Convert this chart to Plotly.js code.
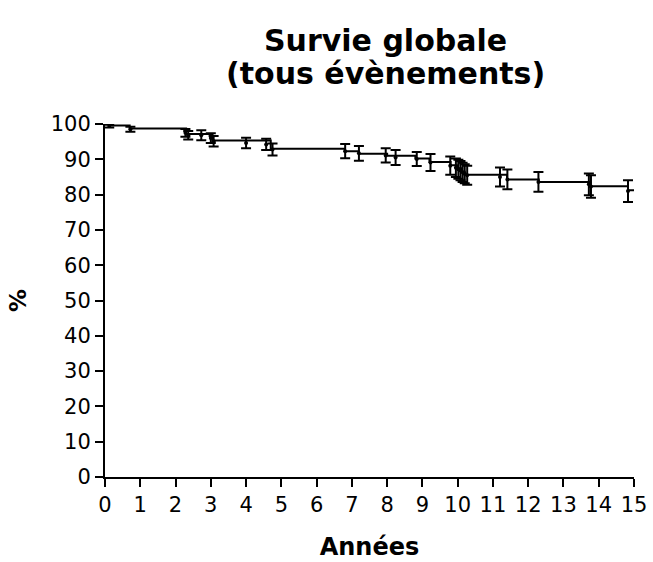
<!DOCTYPE html>
<html>
<head>
<meta charset="utf-8">
<script src="https://cdn.plot.ly/plotly-3.0.1.min.js"></script>
<style>body{margin:0;padding:0;background:#fff}#chart{width:653px;height:562px}</style>
</head>
<body>
<div id="chart"></div>
<script>
// Kaplan-Meier step curve
const stepTimes = [0, 0.15, 0.7, 2.3, 3.05, 4.7, 6.8, 7.2, 8.0, 8.8, 9.2, 9.8, 10.0, 10.1, 10.2, 11.4, 12.3, 13.75, 14.83, 15];
const stepSurv  = [100, 99.6, 98.7, 97.2, 95.3, 93.0, 92.3, 91.6, 91.0, 90.2, 89.2, 88.3, 87.5, 86.5, 85.6, 84.3, 83.6, 82.4, 81.2, 81.2];

// Error bars (time, survival, half-width)
const barTimes = [0.12, 0.72, 2.28, 2.36, 2.73, 3.0, 3.08, 4.0, 4.57, 4.75, 6.81, 7.2, 7.96, 8.24, 8.84, 9.23, 9.79, 9.95, 10.02, 10.08, 10.14, 10.2, 10.27, 11.2, 11.41, 12.29, 13.72, 13.78, 14.83];
const barSurv  = [99.4, 98.5, 97.5, 96.8, 96.8, 96.0, 95.1, 94.6, 94.2, 92.8, 92.3, 91.7, 91.1, 90.5, 90.1, 89.1, 88.2, 87.6, 87.2, 86.8, 86.3, 85.9, 85.5, 85.0, 84.3, 83.6, 82.9, 82.3, 81.0];
const barErr   = [0.4, 0.7, 1.1, 1.2, 1.4, 1.4, 1.5, 1.5, 1.6, 1.7, 2.0, 2.1, 2.0, 2.1, 2.0, 2.4, 2.6, 2.6, 2.7, 2.7, 2.7, 2.7, 2.7, 2.7, 2.8, 2.8, 3.1, 3.2, 3.1];

const xTicks = [0,1,2,3,4,5,6,7,8,9,10,11,12,13,14,15];
const yTicks = [0,10,20,30,40,50,60,70,80,90,100];
const titleLines = ['Survie globale', '(tous évènements)'];

const traces = [
  {x: stepTimes, y: stepSurv, type: 'scatter', mode: 'lines',
   line: {shape: 'hv', color: '#000', width: 2}, cliponaxis: false, hoverinfo: 'skip'},
  {x: barTimes, y: barSurv, type: 'scatter', mode: 'markers',
   marker: {size: 4, color: '#000'},
   error_y: {type: 'data', array: barErr, visible: true, color: '#000', thickness: 2, width: 5},
   cliponaxis: false}
];

const layout = {
  width: 653, height: 562,
  margin: {l: 105, r: 19, t: 124, b: 85},
  paper_bgcolor: '#fff', plot_bgcolor: '#fff',
  showlegend: false,
  font: {family: 'DejaVu Sans, Liberation Sans, Arial', color: '#000'},
  annotations: titleLines.map((t, i) => ({
    text: '<b>' + t + '</b>', xref: 'paper', yref: 'paper', x: 0.53, y: [1.0 + (124 - 41) / 353, 1.0 + (124 - 73) / 353][i],
    xanchor: 'center', yanchor: 'middle', showarrow: false,
    font: {family: 'DejaVu Sans', size: 30, color: '#000'}
  })),
  xaxis: {range: [0, 15], tickvals: xTicks, ticktext: xTicks.map(String),
          showline: true, linecolor: '#000', linewidth: 2, ticks: 'outside', ticklen: 8, tickwidth: 2,
          tickcolor: '#000', showgrid: false, zeroline: false,
          tickfont: {size: 21, family: 'DejaVu Sans'},
          title: {text: '<b>Années</b>', font: {size: 24, family: 'DejaVu Sans'}, standoff: 22}},
  yaxis: {range: [0, 100], tickvals: yTicks, ticktext: yTicks.map(String),
          showline: true, linecolor: '#000', linewidth: 2, ticks: 'outside', ticklen: 8, tickwidth: 2,
          tickcolor: '#000', showgrid: false, zeroline: false,
          tickfont: {size: 21, family: 'DejaVu Sans'},
          title: {text: '<b>%</b>', font: {size: 23, family: 'DejaVu Sans'}, standoff: 18}}
};

Plotly.newPlot('chart', traces, layout, {displayModeBar: false, staticPlot: true});
</script>
</body>
</html>
